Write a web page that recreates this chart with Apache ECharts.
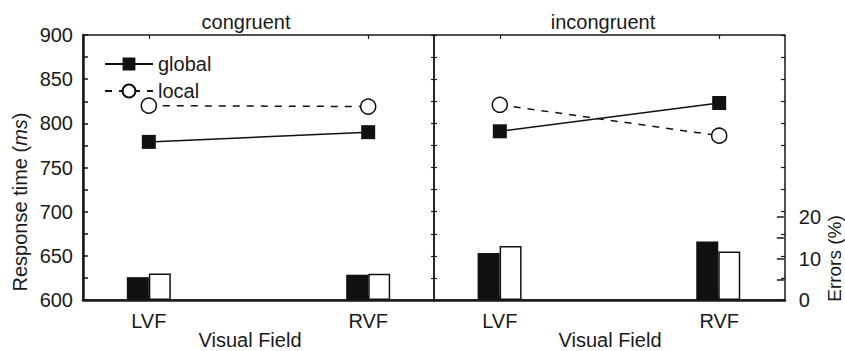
<!DOCTYPE html>
<html><head><meta charset="utf-8">
<script src="https://cdn.jsdelivr.net/npm/echarts@6/dist/echarts.min.js"></script>
<style>html,body{margin:0;padding:0;background:#fff}#c{width:845px;height:351px}</style>
</head><body><div id="c"></div>
<script>
// ---- data ----
const panels = ['congruent', 'incongruent'];
const fields = ['LVF', 'RVF'];
const rtGlobalCongruent = [779, 790];
const rtLocalCongruent = [820, 819];
const rtGlobalIncongruent = [791, 823];
const rtLocalIncongruent = [821, 786];
const errGlobalCongruent = [5.5, 6.1];
const errLocalCongruent = [6.4, 6.3];
const errGlobalIncongruent = [11.3, 14.1];
const errLocalIncongruent = [13.0, 11.7];
const rtLabelStep = 50;
const errLabelStep = 10;
const xLabel = 'Visual Field';
const yLabelParts = ['Response time (', 'ms', ')'];
const errName = 'Errors (%)';

// ---- chart ----
const FONT = '"Liberation Sans", Arial, sans-serif';
const INK = '#1a1a1a';
const chart = echarts.init(document.getElementById('c'), null, {renderer: 'svg'});

const pts = arr => arr.map((v, i) => [i, v]);
const baseX = (g) => ({
  type: 'value', gridIndex: g, min: -0.3, max: 1.3,
  splitLine: {show: false}, axisTick: {show: false}, axisLabel: {show: false},
  axisLine: {show: false, onZero: false}
});
const bottomX = (g) => Object.assign(baseX(g), {
  axisLine: {show: true, onZero: false, lineStyle: {color: INK, width: 2.5}},
  axisTick: {show: true, inside: true, length: 5, customValues: [0, 1], lineStyle: {color: INK, width: 1.5}},
  axisLabel: {show: true, customValues: [0, 1], formatter: v => fields[Math.round(v)],
    fontSize: 20, fontFamily: FONT, color: INK, margin: 11}
});
const topX = (g) => Object.assign(baseX(g), {
  position: 'top',
  axisTick: {show: true, inside: true, length: 4, customValues: [0, 1], lineStyle: {color: INK, width: 1.2}}
});
const rtY = (g, pos, opts) => Object.assign({
  type: 'value', gridIndex: g, position: pos, min: 600, max: 900, interval: 25,
  splitLine: {show: false}, axisLine: {show: false, onZero: false},
  axisTick: {show: true, inside: true, length: 3, lineStyle: {color: INK, width: 1.2}},
  axisLabel: {show: false}
}, opts || {});

const option = {
  animation: false,
  backgroundColor: '#fff',
  textStyle: {fontFamily: FONT, color: INK},
  grid: [
    {left: 83, top: 35, width: 351, height: 265, show: true, borderColor: INK, borderWidth: 1.5},
    {left: 434, top: 35, width: 351, height: 265, show: true, borderColor: INK, borderWidth: 1.5},
    {left: 83, top: 217, width: 351, height: 83},
    {left: 434, top: 217, width: 351, height: 83}
  ],
  xAxis: [bottomX(0), bottomX(1), baseX(2), baseX(3), topX(0), topX(1)],
  yAxis: [
    rtY(0, 'left', {
      axisLine: {show: true, onZero: false, lineStyle: {color: INK, width: 2.5}},
      axisTick: {show: true, inside: true, length: 5, lineStyle: {color: INK, width: 1.5}},
      axisLabel: {show: true, fontSize: 20, fontFamily: FONT, color: INK, margin: 10,
        formatter: v => (v % rtLabelStep === 0 ? String(v) : '')}
    }),
    rtY(0, 'right'),
    rtY(1, 'left'),
    rtY(1, 'right', {axisTick: {show: true, inside: true, length: 4, lineStyle: {color: INK, width: 1.2}}}),
    {type: 'value', gridIndex: 2, min: 0, max: 20, show: false, axisLine: {onZero: false}},
    {type: 'value', gridIndex: 3, position: 'right', min: 0, max: 20, interval: 5,
      splitLine: {show: false}, axisLine: {show: false, onZero: false},
      axisTick: {show: true, inside: true, length: 7, lineStyle: {color: INK, width: 1.5}},
      axisLabel: {show: true, fontSize: 20, fontFamily: FONT, color: INK, margin: 15,
        formatter: v => (v % errLabelStep === 0 ? String(v) : '')},
      name: errName, nameLocation: 'middle', nameRotate: 90, nameGap: 40,
      nameTextStyle: {fontSize: 19, fontFamily: FONT, color: INK}
    }
  ],
  legend: {
    data: ['global', 'local'], orient: 'vertical', left: 99, top: 49,
    itemWidth: 48, itemHeight: 16, itemGap: 7,
    textStyle: {fontSize: 20, fontFamily: FONT, color: INK}
  },
  series: [],
  graphic: [
    {type: 'text', x: 246, y: 22, style: {text: panels[0], fontSize: 20, fontFamily: FONT, fill: INK, align: 'center', verticalAlign: 'middle', textAlign: 'center', textVerticalAlign: 'middle'}},
    {type: 'text', x: 603, y: 22, style: {text: panels[1], fontSize: 20, fontFamily: FONT, fill: INK, align: 'center', verticalAlign: 'middle', textAlign: 'center', textVerticalAlign: 'middle'}},
    {type: 'text', x: 250, y: 340, style: {text: xLabel, fontSize: 20, fontFamily: FONT, fill: INK, align: 'center', verticalAlign: 'middle', textAlign: 'center', textVerticalAlign: 'middle'}},
    {type: 'text', x: 610, y: 340, style: {text: xLabel, fontSize: 20, fontFamily: FONT, fill: INK, align: 'center', verticalAlign: 'middle', textAlign: 'center', textVerticalAlign: 'middle'}},
    {type: 'text', x: 20, y: 202, rotation: Math.PI / 2,
      style: {text: '{a|' + yLabelParts[0] + '}{b|' + yLabelParts[1] + '}{a|' + yLabelParts[2] + '}',
        align: 'center', verticalAlign: 'middle', textAlign: 'center', textVerticalAlign: 'middle',
        rich: {a: {fontSize: 20, fontFamily: FONT, fill: INK, color: INK},
               b: {fontSize: 20, fontFamily: FONT, fontStyle: 'italic', fill: INK, color: INK}}}}
  ]
};

const lineGlobal = (data, xi, yi) => ({
  type: 'line', name: 'global', xAxisIndex: xi, yAxisIndex: yi, data: pts(data),
  symbol: 'rect', symbolSize: 14, z: 5,
  itemStyle: {color: '#111'}, lineStyle: {color: '#111', width: 1.5}
});
const lineLocal = (data, xi, yi) => ({
  type: 'line', name: 'local', xAxisIndex: xi, yAxisIndex: yi, data: pts(data),
  symbol: 'circle', symbolSize: 15, z: 5,
  itemStyle: {color: '#fff', borderColor: '#111', borderWidth: 1.5},
  lineStyle: {color: '#111', width: 1.5, type: [7, 7]}
});
const barGlobal = (data, xi, yi) => ({
  type: 'bar', name: 'global errors', xAxisIndex: xi, yAxisIndex: yi, data: pts(data),
  barWidth: 22, barGap: '0%', itemStyle: {color: '#111'}
});
const barLocal = (data, xi, yi) => ({
  type: 'bar', name: 'local errors', xAxisIndex: xi, yAxisIndex: yi, data: pts(data),
  barWidth: 22, barGap: '0%', itemStyle: {color: '#fff', borderColor: '#111', borderWidth: 1.5}
});

option.series.push(
  barGlobal(errGlobalCongruent, 2, 4), barLocal(errLocalCongruent, 2, 4),
  barGlobal(errGlobalIncongruent, 3, 5), barLocal(errLocalIncongruent, 3, 5),
  lineGlobal(rtGlobalCongruent, 0, 0), lineLocal(rtLocalCongruent, 0, 0),
  lineGlobal(rtGlobalIncongruent, 1, 2), lineLocal(rtLocalIncongruent, 1, 2)
);

chart.setOption(option);
</script>
</body></html>
